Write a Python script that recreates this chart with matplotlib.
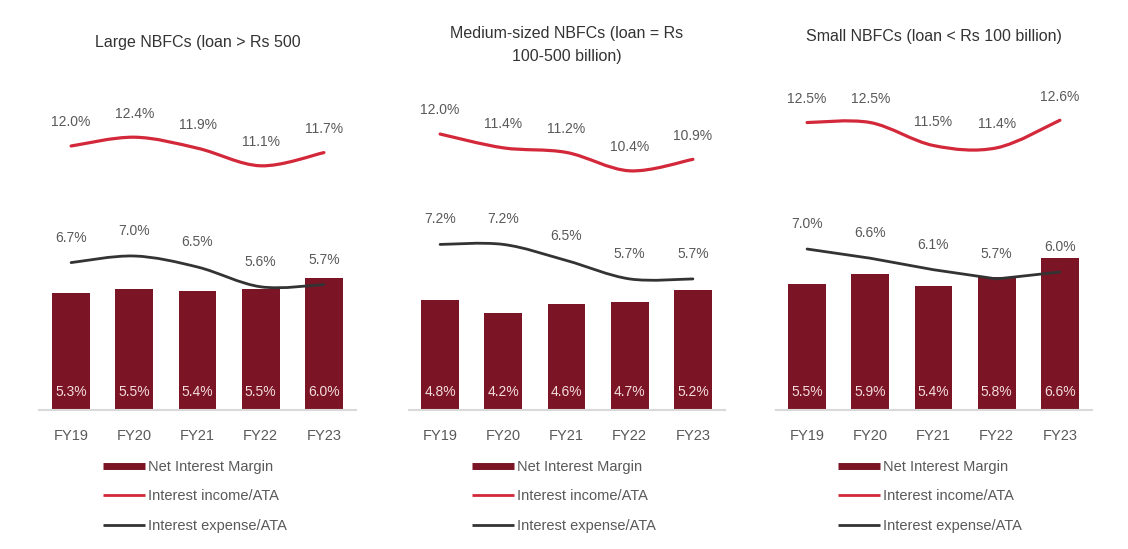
import matplotlib
matplotlib.use("Agg")
import matplotlib.pyplot as plt
from matplotlib.path import Path
from matplotlib.patches import PathPatch
from matplotlib.lines import Line2D

plt.rcParams['font.family'] = ['Liberation Sans', 'DejaVu Sans']

years = ["FY19", "FY20", "FY21", "FY22", "FY23"]

titles = ["Large NBFCs (loan > Rs 500",
          "Medium-sized NBFCs (loan = Rs\n100-500 billion)",
          "Small NBFCs (loan < Rs 100 billion)"]

nim_large = [5.3, 5.5, 5.4, 5.5, 6.0]
inc_large = [12.0, 12.4, 11.9, 11.1, 11.7]
exp_large = [6.7, 7.0, 6.5, 5.6, 5.7]

nim_medium = [4.8, 4.2, 4.6, 4.7, 5.2]
inc_medium = [12.0, 11.4, 11.2, 10.4, 10.9]
exp_medium = [7.2, 7.2, 6.5, 5.7, 5.7]

nim_small = [5.5, 5.9, 5.4, 5.8, 6.6]
inc_small = [12.5, 12.5, 11.5, 11.4, 12.6]
exp_small = [7.0, 6.6, 6.1, 5.7, 6.0]

BAR = '#7b1526'
RED = '#d3283a'
DARK = '#333333'
GRAY = '#595959'

W, H = 1128, 549


def smooth_path(xs, ys):
    # Catmull-Rom curve through the points, drawn as cubic Bezier segments
    pts = list(zip(xs, ys))
    verts = [pts[0]]
    codes = [Path.MOVETO]
    n = len(pts)
    for i in range(n - 1):
        p0 = pts[max(i - 1, 0)]
        p1 = pts[i]
        p2 = pts[i + 1]
        p3 = pts[min(i + 2, n - 1)]
        c1 = (p1[0] + (p2[0] - p0[0]) / 6, p1[1] + (p2[1] - p0[1]) / 6)
        c2 = (p2[0] - (p3[0] - p1[0]) / 6, p2[1] - (p3[1] - p1[1]) / 6)
        verts += [c1, c2, p2]
        codes += [Path.CURVE4] * 3
    return Path(verts, codes)


fig = plt.figure(figsize=(W / 100, H / 100), dpi=100)

# left px, y max, data, smooth expense line?, legend x px, title y px
panels = [
    (39.5, 15.0, nim_large, inc_large, exp_large, True, 103, 42),
    (408.5, 14.35, nim_medium, inc_medium, exp_medium, True, 472, 45),
    (775.5, 14.35, nim_small, inc_small, exp_small, False, 838, 36),
]

base_px = 410
top_px = 80

for k, (left, ymax, nim, inc, exp, smooth_exp, leg_x, title_y) in enumerate(panels):
    ax = fig.add_axes([left / W, (H - base_px) / H, 316 / W, (base_px - top_px) / H])
    x = list(range(len(years)))
    ax.bar(x, nim, width=0.6, color=BAR, zorder=2)

    ax.add_patch(PathPatch(smooth_path(x, inc), fill=False, edgecolor=RED, lw=2.3,
                           capstyle='round', zorder=3))
    if smooth_exp:
        ax.add_patch(PathPatch(smooth_path(x, exp), fill=False, edgecolor=DARK, lw=2.0,
                               capstyle='round', zorder=3))
    else:
        ax.plot(x, exp, color=DARK, lw=2.0, zorder=3, solid_capstyle='round')

    for i in x:
        ax.annotate(f"{inc[i]:.1f}%", (i, inc[i]), xytext=(0, 17), textcoords='offset points',
                    ha='center', va='center', fontsize=10, color=GRAY)
        ax.annotate(f"{exp[i]:.1f}%", (i, exp[i]), xytext=(0, 18), textcoords='offset points',
                    ha='center', va='center', fontsize=10, color=GRAY)
        ax.annotate(f"{nim[i]:.1f}%", (i, 0), xytext=(0, 13), textcoords='offset points',
                    ha='center', va='center', fontsize=10, color='#f3dcdc', zorder=4)

    ax.set_xlim(-0.5, 4.5)
    ax.set_ylim(0, ymax)
    ax.set_xticks(x)
    ax.set_xticklabels(years, fontsize=10.5, color=GRAY)
    ax.tick_params(axis='x', length=0, pad=14)
    ax.set_yticks([])
    for s in ['top', 'right', 'left']:
        ax.spines[s].set_visible(False)
    ax.spines['bottom'].set_color('#d9d9d9')
    ax.spines['bottom'].set_linewidth(1.5)

    # title
    fig.text((left + 158) / W, 1 - title_y / H, titles[k], ha='center', va='center',
             fontsize=11.5, color='#333333', linespacing=1.6)

    handles = [Line2D([], [], color=BAR, lw=5, solid_capstyle='butt'),
               Line2D([], [], color=RED, lw=2, solid_capstyle='butt'),
               Line2D([], [], color=DARK, lw=2, solid_capstyle='butt')]
    labels = ["Net Interest Margin", "Interest income/ATA", "Interest expense/ATA"]
    fig.legend(handles, labels, loc='upper left',
               bbox_to_anchor=(leg_x / W, 1 - 460 / H), frameon=False,
               fontsize=10.5, labelcolor=GRAY, handlelength=2.9, handletextpad=0.2,
               labelspacing=1.05, borderpad=0, borderaxespad=0)

fig.savefig("out.png", dpi=100, facecolor='white')
